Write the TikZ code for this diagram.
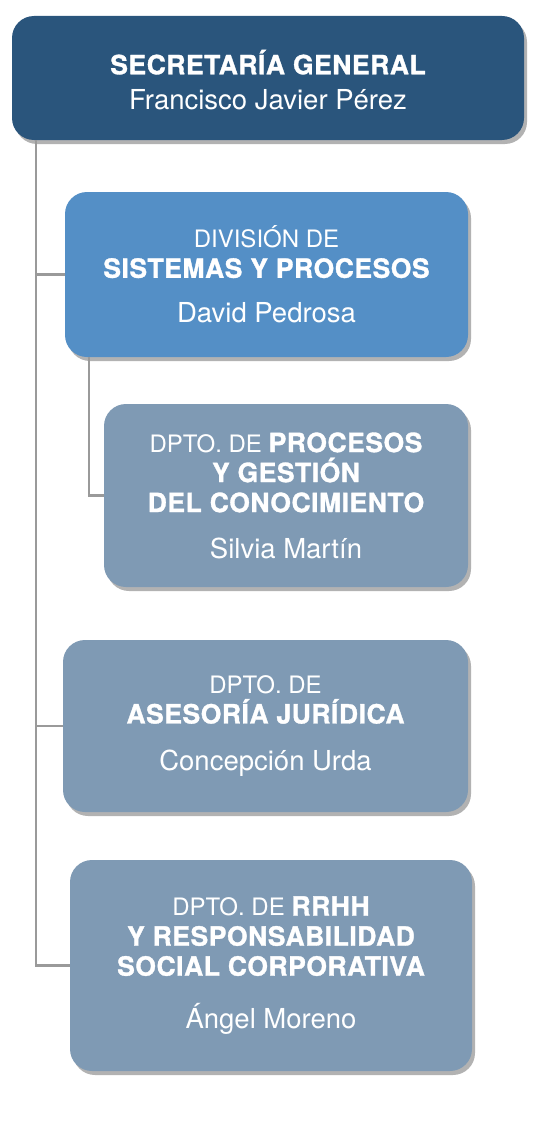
\documentclass[tikz,border=0pt]{standalone}
\usepackage{fontspec}
\setmainfont{TeX Gyre Heros}[BoldFeatures={FakeBold=1.2, LetterSpace=2}]
\usetikzlibrary{shadows}
\definecolor{topblue}{HTML}{2A557C}
\definecolor{divblue}{HTML}{548FC6}
\definecolor{deptgrey}{HTML}{7F9AB4}
\definecolor{linegrey}{HTML}{9A9A9A}
\newcommand{\capsfont}{\fontsize{24}{30}\selectfont}
\newcommand{\boldfont}{\bfseries\fontsize{26.5}{30}\selectfont}
\newcommand{\namefont}{\mdseries\fontsize{27.5}{30}\selectfont}
\begin{document}
\begin{tikzpicture}[x=1pt,y=-1pt,
  orgbox/.style={rounded corners=22pt, text=white, align=center, inner sep=0pt,
    drop shadow={shadow xshift=3pt, shadow yshift=-4pt, fill=black, opacity=0.3},
    font=\capsfont},
  link/.style={draw=linegrey, line width=2.4pt}]
\useasboundingbox (0,0) rectangle (551,1121);
% connectors
\coordinate (t1) at (36,0);
\coordinate (t2) at (89,0);
% boxes
\node[orgbox, fill=topblue, minimum width=512pt, minimum height=124pt] (b1) at (268,78)
  {\rule{0pt}{28pt}{\boldfont SECRETARÍA GENERAL}\\[5pt]{\namefont Francisco Javier Pérez}};
\node[orgbox, fill=divblue, minimum width=403pt, minimum height=165pt] (b2) at (266.5,274.5)
  {DIVISIÓN DE\\{\boldfont SISTEMAS Y PROCESOS}\\[15pt]{\namefont David Pedrosa}};
\node[orgbox, fill=deptgrey, minimum width=364pt, minimum height=183pt] (b3) at (286,495.5)
  {DPTO. DE {\boldfont PROCESOS}\\{\boldfont Y GESTIÓN}\\{\boldfont DEL CONOCIMIENTO}\\[16pt]{\namefont Silvia Martín}};
\node[orgbox, fill=deptgrey, minimum width=405pt, minimum height=172pt] (b4) at (265.5,726)
  {DPTO. DE\\{\boldfont ASESORÍA JURÍDICA}\\[17pt]{\namefont Concepción Urda}};
\node[orgbox, fill=deptgrey, minimum width=402pt, minimum height=211pt] (b5) at (271,965.5)
  {DPTO. DE {\boldfont RRHH}\\{\boldfont Y RESPONSABILIDAD}\\{\boldfont SOCIAL CORPORATIVA}\\[23pt]{\namefont Ángel Moreno}};
\draw[link] (t1 |- b1.south) |- (b5.west);
\draw[link] (t1 |- b2.west) -- (b2.west);
\draw[link] (t1 |- b4.west) -- (b4.west);
\draw[link] (t2 |- b2.south) |- (b3.west);
\end{tikzpicture}
\end{document}
